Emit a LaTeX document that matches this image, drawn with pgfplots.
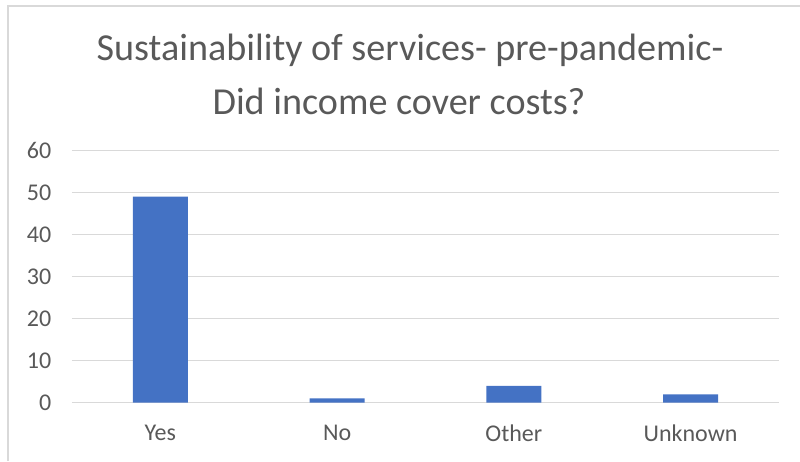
\documentclass[border=0pt]{standalone}
\usepackage{pgfplots}
\pgfplotsset{compat=1.18}
\usepackage{fontspec}
\setmainfont{Carlito}
\definecolor{txt}{RGB}{89,89,89}
\definecolor{grd}{RGB}{217,217,217}
\definecolor{bar}{RGB}{68,114,196}
\begin{document}
\begin{tikzpicture}[x=0.75pt,y=0.75pt]
\useasboundingbox (0,0) rectangle (800,461);
\draw[grd, line width=1pt] (8,0) -- (8,455) -- (800,455);
\node[txt, font=\fontsize{28.6}{34}\selectfont, align=center] at (410,461-50) {Sustainability of services- pre-pandemic-};
\node[txt, font=\fontsize{28.6}{34}\selectfont, align=center] at (399,461-101) {Did income cover costs?};
\begin{axis}[
  at={(72*0.75pt,58.3*0.75pt)}, anchor=south west,
  scale only axis, width=530.25pt, height=189.3pt,
  xmin=-0.5, xmax=3.5, ymin=0, ymax=60,
  ytick={0,10,...,60},
  xtick={0,1,2,3},
  xticklabels={Yes,No,Other,Unknown},
  axis line style={draw=none},
  major tick length=0pt,
  ymajorgrids, grid style={grd, line width=0.9pt},
  tick label style={txt, font=\fontsize{18}{21}\selectfont},
  /pgf/number format/assume math mode=true,
  yticklabel style={xshift=-12pt},
  xticklabel style={yshift=-13pt},
  clip=false,
]
\addplot[ybar, bar width=41.25pt, fill=bar, draw=none] coordinates {(0,49) (1,1) (2,4) (3,2)};
\end{axis}
\end{tikzpicture}
\end{document}
